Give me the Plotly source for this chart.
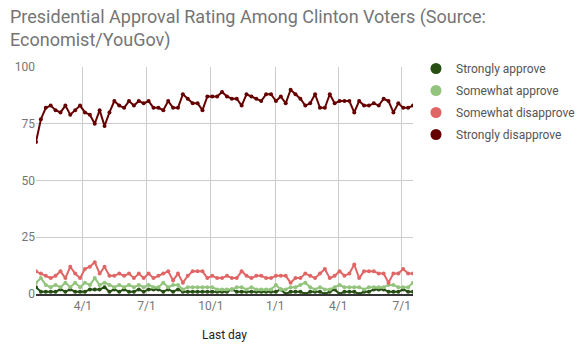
import pandas as pd
import plotly.graph_objects as go

# Weekly poll end dates ("Last day")
start_date = "2017-01-24"
n_weeks = 78
dates = pd.date_range(start_date, periods=n_weeks, freq="7D")

strongly_approve = [3, 1, 1, 1, 1, 2, 1, 2, 1, 1, 1, 2, 2, 2, 3, 1, 2, 1, 2, 1,
                    1, 2, 1, 2, 2, 2, 1, 2, 1, 2, 1, 1, 1, 1, 1, 1, 1, 1, 1, 1,
                    2, 1, 1, 1, 1, 1, 1, 1, 1, 1, 2, 0, 1, 1, 1, 0, 1, 1, 1, 0,
                    1, 2, 0, 1, 1, 1, 0, 1, 1, 2, 2, 2, 1, 1, 1, 2, 1, 1]
somewhat_approve = [5, 7, 4, 3, 4, 3, 5, 3, 5, 3, 5, 4, 7, 4, 5, 4, 3, 4, 3, 4,
                    3, 4, 3, 4, 3, 3, 5, 3, 4, 4, 2, 3, 3, 3, 3, 3, 3, 2, 2, 2,
                    2, 3, 3, 2, 3, 2, 2, 2, 2, 4, 2, 2, 3, 3, 4, 5, 3, 2, 3, 2,
                    2, 3, 4, 3, 3, 3, 3, 2, 3, 3, 3, 3, 4, 4, 3, 3, 3, 5]
somewhat_disapprove = [10, 9, 8, 7, 8, 10, 7, 12, 9, 7, 11, 12, 14, 9, 12, 8, 8, 9, 8, 9,
                       7, 9, 7, 9, 7, 8, 9, 10, 6, 9, 5, 8, 10, 10, 10, 7, 8, 7, 7, 8,
                       7, 7, 10, 8, 7, 8, 8, 7, 7, 8, 8, 8, 5, 7, 7, 9, 8, 7, 9, 11,
                       7, 8, 10, 8, 9, 13, 7, 10, 10, 10, 9, 9, 5, 9, 9, 11, 9, 9]
strongly_disapprove = [67, 77, 82, 83, 81, 80, 83, 79, 81, 83, 80, 79, 75, 81, 74, 80, 85, 83, 82, 85,
                       83, 85, 84, 85, 82, 82, 81, 85, 82, 82, 88, 86, 84, 84, 81, 87, 87, 87, 89, 87,
                       86, 86, 83, 88, 87, 86, 85, 88, 88, 85, 87, 84, 90, 88, 86, 83, 84, 88, 82, 82,
                       88, 84, 85, 85, 85, 80, 85, 83, 83, 84, 83, 86, 85, 80, 84, 82, 82, 83]

series_names = ["Strongly approve", "Somewhat approve", "Somewhat disapprove", "Strongly disapprove"]
series_values = [strongly_approve, somewhat_approve, somewhat_disapprove, strongly_disapprove]
series_colors = ["#274e13", "#93c47d", "#e06666", "#660000"]

x_tick_vals = ["2017-04-01", "2017-07-01", "2017-10-01", "2018-01-01", "2018-04-01", "2018-07-01"]
x_tick_text = ["4/1", "7/1", "10/1", "1/1", "4/1", "7/1"]
y_tick_vals = [0, 25, 50, 75, 100]

title_text = "Presidential Approval Rating Among Clinton Voters (Source:<br>Economist/YouGov)"

fig = go.Figure()
for name, vals, col in zip(series_names, series_values, series_colors):
    fig.add_trace(go.Scatter(
        x=dates, y=vals, mode="lines+markers", name=name,
        line=dict(color=col, width=2), marker=dict(color=col, size=4),
        showlegend=False, hoverinfo="x+y+name"))
# legend entries (circle swatches)
for i, (name, col) in enumerate(zip(series_names, series_colors)):
    fig.add_trace(go.Scatter(
        x=[None], y=[None], mode="markers", name=name, legendgroup=f"g{i}",
        marker=dict(color=col, size=11), showlegend=True))

W, H = 586, 357
L, R, T, B = 36, 173, 67, 63
pw, ph = W - L - R, H - T - B

fig.add_annotation(
    text=title_text, xref="paper", yref="paper",
    x=(8 - L) / pw, xanchor="left", y=1 + (T - 4) / ph, yanchor="top",
    align="left", showarrow=False,
    font=dict(family="Roboto, Arial, sans-serif", size=18, color="#757575"))

fig.update_layout(
    width=W, height=H,
    paper_bgcolor="white", plot_bgcolor="white",
    margin=dict(l=L, r=R, t=T, b=B, autoexpand=False),
    font=dict(family="Roboto, Arial, sans-serif", size=12, color="#757575"),
    legend=dict(
        x=1 + 3 / pw, xanchor="left", y=1 + 13 / ph, yanchor="top",
        font=dict(size=12, color="#555555"),
        tracegroupgap=3, bgcolor="rgba(0,0,0,0)"),
    xaxis=dict(
        range=[dates[0], dates[-1]],
        tickvals=x_tick_vals, ticktext=x_tick_text,
        showgrid=True, gridcolor="#cccccc", gridwidth=1,
        showline=True, linecolor="#333333", linewidth=1.5,
        zeroline=False, ticks="", automargin=False,
        tickfont=dict(size=12, color="#757575"),
        title=dict(text="Last day", font=dict(size=12, color="#222222"), standoff=18)),
    yaxis=dict(
        range=[0, 100], tickvals=y_tick_vals,
        showgrid=True, gridcolor="#cccccc", gridwidth=1,
        zeroline=False, showline=False, ticks="", automargin=False,
        tickfont=dict(size=12, color="#757575")),
)

fig.write_html("out.html", config={"displayModeBar": False},
               post_script="document.body.style.margin='0';")
